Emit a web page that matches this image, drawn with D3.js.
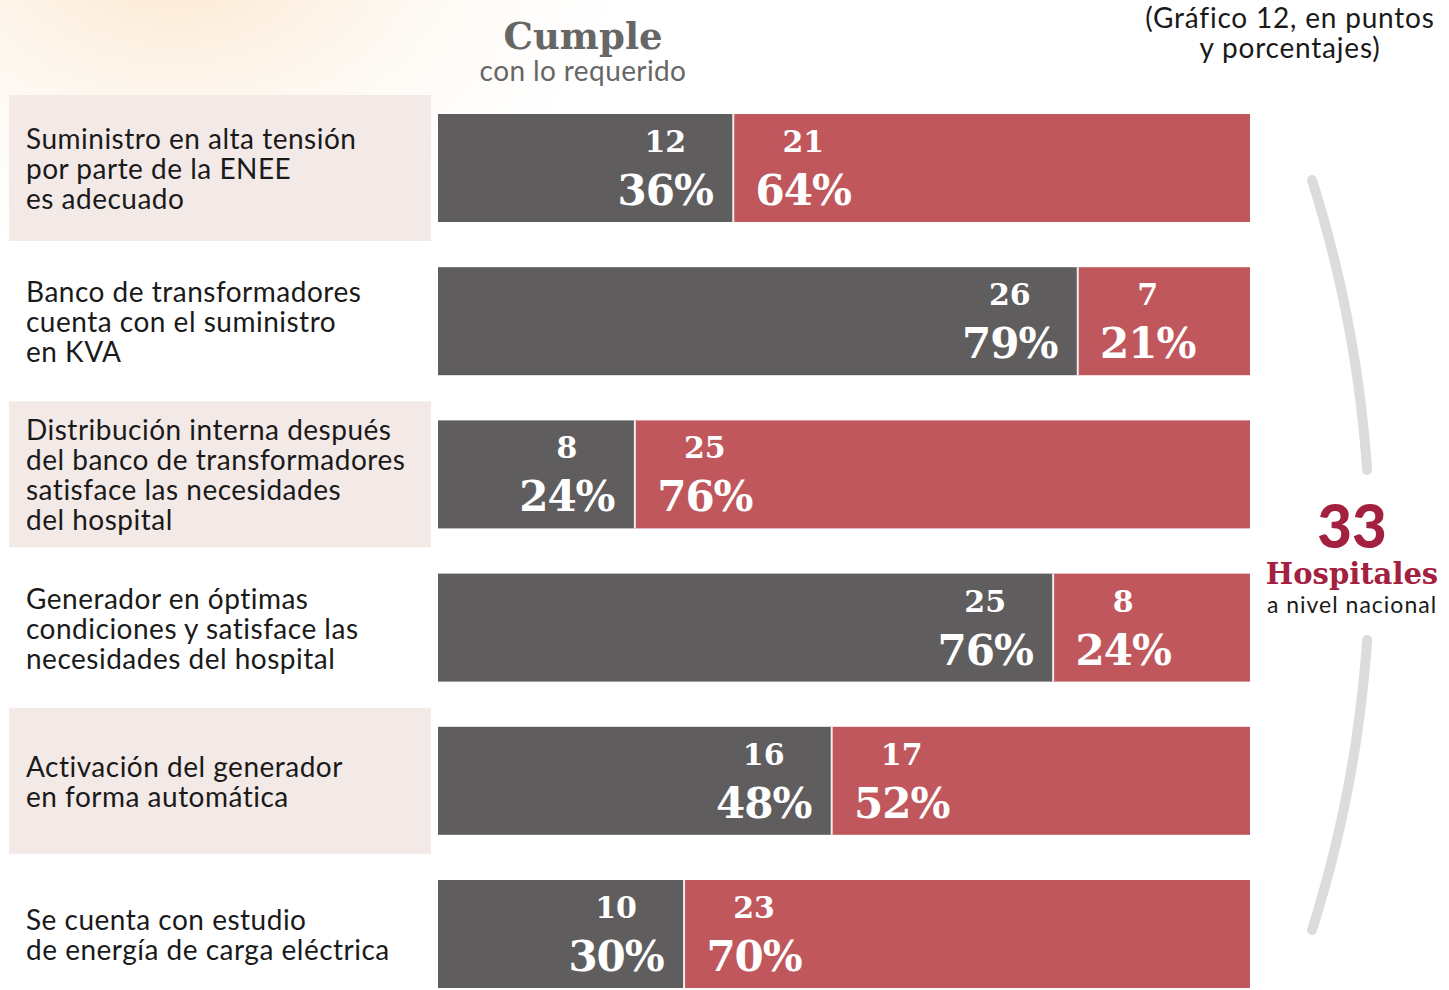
<!DOCTYPE html>
<html>
<head>
<meta charset="utf-8">
<script src="https://cdn.jsdelivr.net/npm/d3@7"></script>
<style>
  html, body { margin: 0; padding: 0; background: #fff; }
  svg { display: block; }
</style>
</head>
<body>
<svg id="chart" width="1449" height="990"></svg>
<script>
// Indicators evaluated in each hospital (one bar per indicator)
const categories = [
  ["Suministro en alta tensión", "por parte de la ENEE", "es adecuado"],
  ["Banco de transformadores", "cuenta con el suministro", "en KVA"],
  ["Distribución interna después", "del banco de transformadores", "satisface las necesidades", "del hospital"],
  ["Generador en óptimas", "condiciones y satisface las", "necesidades del hospital"],
  ["Activación del generador", "en forma automática"],
  ["Se cuenta con estudio", "de energía de carga eléctrica"]
];
// Number of hospitals that comply / do not comply
const cumple   = [12, 26, 8, 25, 16, 10];
const noCumple = [21, 7, 25, 8, 17, 23];
// Percentages printed on each segment
const pctCumple   = [36, 79, 24, 76, 48, 30];
const pctNoCumple = [64, 21, 76, 24, 52, 70];
const totalHospitales = 33;

const svg = d3.select("#chart");
const W = 1449, H = 990;

// soft warm glow in the upper-left corner
const defs = svg.append("defs");
const glow = defs.append("radialGradient").attr("id", "glow")
  .attr("cx", 0.12).attr("cy", -0.05).attr("r", 0.35);
glow.append("stop").attr("offset", "0%").attr("stop-color", "#fbe2c4").attr("stop-opacity", 0.9);
glow.append("stop").attr("offset", "100%").attr("stop-color", "#ffffff").attr("stop-opacity", 0);
svg.append("rect").attr("width", W).attr("height", H).attr("fill", "#fff");
svg.append("rect").attr("width", W).attr("height", H).attr("fill", "url(#glow)");

const x = d3.scaleLinear().domain([0, totalHospitales]).range([438, 1250]);
const y = d3.scaleBand().domain(d3.range(categories.length))
  .range([114, 988]).paddingInner(0.295).paddingOuter(0);

const GRAY = "#5f5d5e", RED = "#bf575c", SHADE = "#f3e9e7", CRIMSON = "#a3203f";
const sans = "'Lato', 'Noto Sans', sans-serif";
const slab = "'DejaVu Serif', serif";

// shaded label panels on alternating rows
svg.append("g").selectAll("rect")
  .data(d3.range(categories.length).filter(i => i % 2 === 0))
  .join("rect")
  .attr("x", 9).attr("width", 422)
  .attr("y", i => y(i) + y.bandwidth() / 2 - 73)
  .attr("height", 146)
  .attr("fill", SHADE);

// category labels
const labels = svg.append("g");
categories.forEach((lines, i) => {
  const cy = y(i) + y.bandwidth() / 2;
  const first = cy + 11 - 15 * (lines.length - 1);
  const t = labels.append("text")
    .attr("font-family", sans).attr("font-size", 28).attr("letter-spacing", 0.5)
    .attr("fill", "#1a1a1a");
  lines.forEach((ln, k) => {
    t.append("tspan").attr("x", 26).attr("y", first + 30 * k).text(ln);
  });
});

// bars
const rows = svg.append("g").selectAll("g")
  .data(d3.range(categories.length)).join("g");

rows.append("rect")
  .attr("x", x(0)).attr("y", i => y(i))
  .attr("width", i => x(cumple[i]) - x(0))
  .attr("height", y.bandwidth()).attr("fill", GRAY);

rows.append("rect")
  .attr("x", i => x(cumple[i])).attr("y", i => y(i))
  .attr("width", i => x(cumple[i] + noCumple[i]) - x(cumple[i]))
  .attr("height", y.bandwidth()).attr("fill", RED);

rows.append("line")
  .attr("x1", i => x(cumple[i])).attr("x2", i => x(cumple[i]))
  .attr("y1", i => y(i)).attr("y2", i => y(i) + y.bandwidth())
  .attr("stroke", "#eee").attr("stroke-width", 2);

// value labels: count above, percentage below
function valueLabels(sel, countArr, pctArr, dx) {
  sel.append("text")
    .attr("x", i => x(cumple[i]) + dx).attr("y", i => y(i) + 38)
    .attr("text-anchor", "middle").attr("font-family", slab).attr("font-weight", "bold")
    .attr("font-size", 30).attr("fill", "#fff")
    .text(i => countArr[i]);
  sel.append("text")
    .attr("x", i => x(cumple[i]) + dx).attr("y", i => y(i) + 91)
    .attr("text-anchor", "middle").attr("font-family", slab).attr("font-weight", "bold")
    .attr("font-size", 42).attr("letter-spacing", -1).attr("fill", "#fff")
    .text(i => pctArr[i] + "%");
}
valueLabels(rows, cumple, pctCumple, -68);
valueLabels(rows, noCumple, pctNoCumple, 70);

// headings
svg.append("text").attr("x", 583).attr("y", 49).attr("text-anchor", "middle")
  .attr("font-family", slab).attr("font-weight", "bold").attr("font-size", 37)
  .attr("fill", "#666").text("Cumple");
svg.append("text").attr("x", 583).attr("y", 81).attr("text-anchor", "middle")
  .attr("font-family", sans).attr("font-size", 28).attr("letter-spacing", 0.4)
  .attr("fill", "#666").text("con lo requerido");

const note = svg.append("text").attr("text-anchor", "middle")
  .attr("font-family", sans).attr("font-size", 28).attr("letter-spacing", 0.8)
  .attr("fill", "#1a1a1a");
note.append("tspan").attr("x", 1290).attr("y", 28).text("(Gráfico 12, en puntos");
note.append("tspan").attr("x", 1290).attr("y", 58).text("y porcentajes)");

// bracket grouping all rows
const cxArc = 129, cyArc = 555, r = 1241;
const aTop = Math.asin(375 / r), aGap = Math.asin(85 / r);
[[Math.PI / 2 - aTop, Math.PI / 2 - aGap], [Math.PI / 2 + aGap, Math.PI / 2 + aTop]].forEach(([a0, a1]) => {
  const pts = d3.range(0, 41).map(k => {
    const a = a0 + (a1 - a0) * k / 40;
    return [cxArc + r * Math.sin(a), cyArc - r * Math.cos(a)];
  });
  svg.append("path").attr("d", d3.line()(pts))
    .attr("fill", "none").attr("stroke", "#dcdcdc").attr("stroke-width", 10)
    .attr("stroke-linecap", "round");
});

// total callout
svg.append("text").attr("x", 1352).attr("y", 548).attr("text-anchor", "middle")
  .attr("font-family", sans).attr("font-weight", 900).attr("font-size", 60)
  .attr("fill", CRIMSON).text(totalHospitales);
svg.append("text").attr("x", 1352).attr("y", 584).attr("text-anchor", "middle")
  .attr("font-family", slab).attr("font-weight", "bold").attr("font-size", 29)
  .attr("fill", CRIMSON).text("Hospitales");
svg.append("text").attr("x", 1352).attr("y", 613).attr("text-anchor", "middle")
  .attr("font-family", sans).attr("font-size", 23).attr("letter-spacing", 1)
  .attr("fill", "#1a1a1a").text("a nivel nacional");
</script>
</body>
</html>
